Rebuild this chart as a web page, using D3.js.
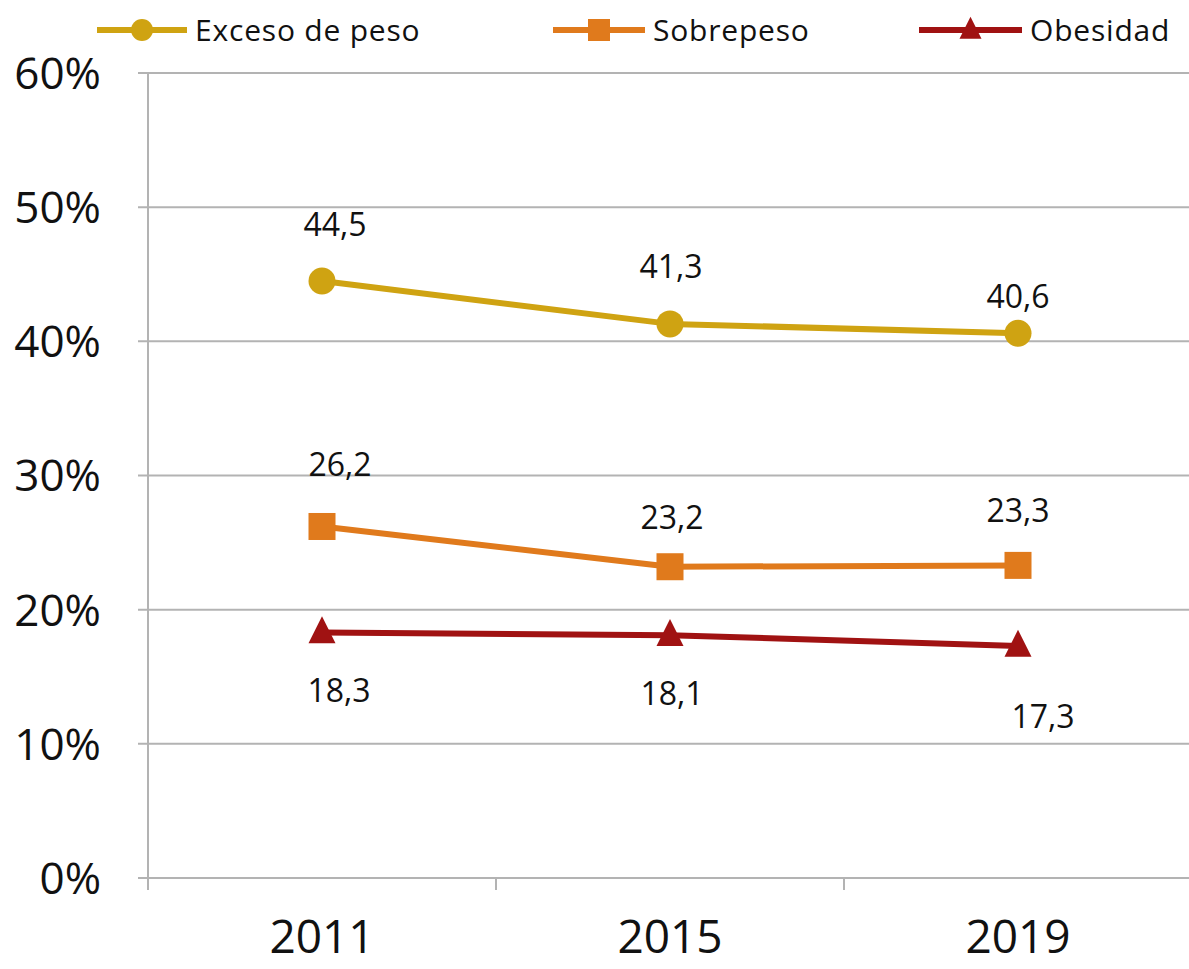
<!DOCTYPE html>
<html><head><meta charset="utf-8">
<script src="https://cdn.jsdelivr.net/npm/d3@7"></script>
<style>
html,body{margin:0;padding:0;background:#fff;}
svg text{font-family:"Open Sans",sans-serif;fill:#111;}
</style></head>
<body>
<svg id="c" width="1189" height="969"></svg>
<script>
const years = ["2011","2015","2019"];
const excesoDePeso = [44.5, 41.3, 40.6];
const sobrepeso = [26.2, 23.2, 23.3];
const obesidad = [18.3, 18.1, 17.3];
const yTicks = [0,10,20,30,40,50,60];
const seriesNames = ["Exceso de peso","Sobrepeso","Obesidad"];
const seriesColors = ["#CFA312","#E07A1C","#A01212"];
const seriesMarkers = ["circle","square","triangle"];
// manual label offsets (dx, dy of label centre from the marker)
const labelDx = [[13,1,0],[18,2,0],[17,2,25]];
const labelDy = [[-56,-57,-37],[-62,-49,-55],[58,58,71]];

(function(){
const svg = d3.select("#c");
const pLeft = 148, pRight = 1192, pTop = 73, pBottom = 878;
const x = d3.scaleBand().domain(years).range([pLeft, pRight]);
const y = d3.scaleLinear().domain([0,60]).range([pBottom, pTop]);

// gridlines
svg.append("g").selectAll("line").data(yTicks).join("line")
  .attr("x1", pLeft - 10).attr("x2", 1189)
  .attr("y1", d=>y(d)).attr("y2", d=>y(d))
  .attr("stroke", "#b3b3b3").attr("stroke-width", 2);

// y axis line
svg.append("line").attr("x1", pLeft).attr("x2", pLeft).attr("y1", pTop).attr("y2", pBottom + 12)
  .attr("stroke", "#b3b3b3").attr("stroke-width", 2);

// x ticks at band boundaries
const bounds = years.map(d=>x(d)).concat([x(years[years.length-1]) + x.bandwidth()]);
svg.append("g").selectAll("line").data(bounds.slice(1)).join("line")
  .attr("x1", d=>d).attr("x2", d=>d).attr("y1", pBottom).attr("y2", pBottom + 12)
  .attr("stroke", "#b3b3b3").attr("stroke-width", 2);

// y tick labels
svg.append("g").selectAll("text").data(yTicks).join("text")
  .attr("x", 101).attr("y", d=>y(d)).attr("dy", "0.36em")
  .attr("text-anchor", "end").attr("font-size", 44)
  .text(d=>d + "%");

// x labels
svg.append("g").selectAll("text").data(years).join("text")
  .attr("x", d=>x(d) + x.bandwidth()/2).attr("y", 953)
  .attr("text-anchor", "middle").attr("font-size", 46)
  .text(d=>d);

const allSeries = [excesoDePeso, sobrepeso, obesidad];
const cx = d=>x(d) + x.bandwidth()/2;

function drawMarker(g, type, color, px, py, s) {
  if (type === "circle") {
    g.append("circle").attr("cx", px).attr("cy", py).attr("r", s/2).attr("fill", color);
  } else if (type === "square") {
    g.append("rect").attr("x", px - s/2).attr("y", py - s/2).attr("width", s).attr("height", s).attr("fill", color);
  } else {
    const h = s;
    g.append("path").attr("d", `M${px},${py - h*0.6} L${px + s/2},${py + h*0.4} L${px - s/2},${py + h*0.4} Z`).attr("fill", color);
  }
}

allSeries.forEach((vals, si) => {
  const g = svg.append("g");
  const line = d3.line().x((d,i)=>cx(years[i])).y(d=>y(d));
  g.append("path").datum(vals).attr("d", line).attr("fill","none")
    .attr("stroke", seriesColors[si]).attr("stroke-width", 6).attr("stroke-linejoin","round");
  vals.forEach((v,i)=>{
    drawMarker(g, seriesMarkers[si], seriesColors[si], cx(years[i]), y(v), 27);
  });
  g.selectAll("text.lbl").data(vals).join("text").attr("class","lbl")
    .attr("x", (d,i)=>cx(years[i]) + labelDx[si][i])
    .attr("y", (d,i)=>y(d) + labelDy[si][i])
    .attr("dy","0.36em").attr("text-anchor","middle").attr("font-size", 32)
    .text(d=>d3.format(".1f")(d).replace(".", ","));
});

// legend
const legendX = [97, 553, 919];
const legendLineW = [90, 92, 103];
const legendY = 30;
const lg = svg.append("g");
seriesNames.forEach((name, si) => {
  const x0 = legendX[si], w = legendLineW[si];
  lg.append("line").attr("x1", x0).attr("x2", x0 + w).attr("y1", legendY).attr("y2", legendY)
    .attr("stroke", seriesColors[si]).attr("stroke-width", 6);
  drawMarker(lg, seriesMarkers[si], seriesColors[si], x0 + w/2, legendY, 22);
  lg.append("text").attr("x", x0 + w + 8).attr("y", legendY).attr("dy","0.36em")
    .attr("font-size", 30).attr("letter-spacing", 0.8).text(name);
});
})();
</script>
</body></html>
